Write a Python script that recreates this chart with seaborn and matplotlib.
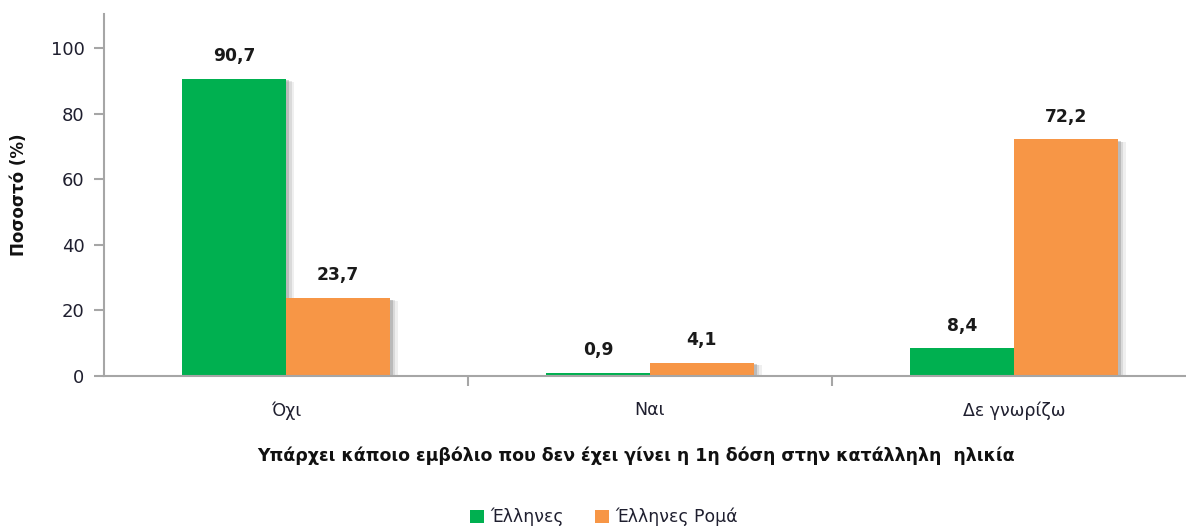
import matplotlib
matplotlib.use("Agg")
import matplotlib.pyplot as plt
import matplotlib.patheffects as pe
from matplotlib.patches import Patch
import seaborn as sns
import pandas as pd

categories = ["Όχι", "Ναι", "Δε γνωρίζω"]
greeks = [90.7, 0.9, 8.4]
greek_roma = [23.7, 4.1, 72.2]
series_names = ["Έλληνες", "Έλληνες Ρομά"]
colors = ["#00B050", "#F79646"]

df = pd.DataFrame({
    "category": categories * 2,
    "value": greeks + greek_roma,
    "group": [series_names[0]] * 3 + [series_names[1]] * 3,
})

sns.set_style("white")
plt.rcParams["font.family"] = ["DejaVu Sans"]

W, H = 1186, 526
fig = plt.figure(figsize=(W / 100, H / 100), dpi=100)
ax = fig.add_axes([104 / W, (H - 376) / H, 1092 / W, 362 / H])

sns.barplot(data=df, x="category", y="value", hue="group", palette=colors,
            order=categories, hue_order=series_names, width=0.57,
            saturation=1, ax=ax, legend=False)

# soft drop shadow to the right of each bar
shadow = [pe.SimplePatchShadow(offset=(6, -2), shadow_rgbFace="#9a9a9a", alpha=0.15),
          pe.SimplePatchShadow(offset=(4, -1.5), shadow_rgbFace="#8a8a8a", alpha=0.2),
          pe.SimplePatchShadow(offset=(2, -1), shadow_rgbFace="#707070", alpha=0.3),
          pe.Normal()]
for p in ax.patches:
    p.set_linewidth(0)
    p.set_path_effects(shadow)

for cont in ax.containers:
    labels = [f"{b.get_height():.1f}".replace(".", ",") for b in cont]
    ax.bar_label(cont, labels=labels, padding=10, fontsize=12.3,
                 fontweight="bold", color="#1a1a1a")

ax.set_xlim(-0.5, 2.5)
ax.set_ylim(0, 110.5)
ax.set_yticks([0, 20, 40, 60, 80, 100])
ax.set_xticks(range(len(categories)))
ax.set_xticklabels(categories)
ax.set_xticks([0.5, 1.5], minor=True)

axis_col = "#A6A6A6"
for s in ["top", "right"]:
    ax.spines[s].set_visible(False)
for s in ["left", "bottom"]:
    ax.spines[s].set_color(axis_col)
    ax.spines[s].set_linewidth(1.5)

ax.tick_params(axis="y", which="major", direction="out", length=7, width=1.5,
               color=axis_col, labelsize=13, labelcolor="#1F1F2F", pad=7, left=True)
ax.tick_params(axis="x", which="major", length=0, labelsize=12.5,
               labelcolor="#1F1F2F", pad=18)
ax.tick_params(axis="x", which="minor", direction="out", length=7, width=1.5,
               color=axis_col, bottom=True)

ax.set_ylabel("Ποσοστό (%)", fontsize=12, fontweight="bold", color="#111111", labelpad=16)
ax.set_xlabel("")
fig.text(636 / W, 1 - 456 / H,
         "Υπάρχει κάποιο εμβόλιο που δεν έχει γίνει η 1η δόση στην κατάλληλη  ηλικία",
         ha="center", va="center", fontsize=12.5, fontweight="bold", color="#111111")

handles = [Patch(facecolor=c, edgecolor="none") for c in colors]
fig.legend(handles, series_names, loc="center", bbox_to_anchor=(604 / W, 1 - 517 / H),
           ncol=2, frameon=False, fontsize=12.4, handlelength=0.8, handleheight=0.8,
           handletextpad=0.4, columnspacing=1.8, labelcolor="#1F1F2F")

fig.savefig("out.png", dpi=100)
